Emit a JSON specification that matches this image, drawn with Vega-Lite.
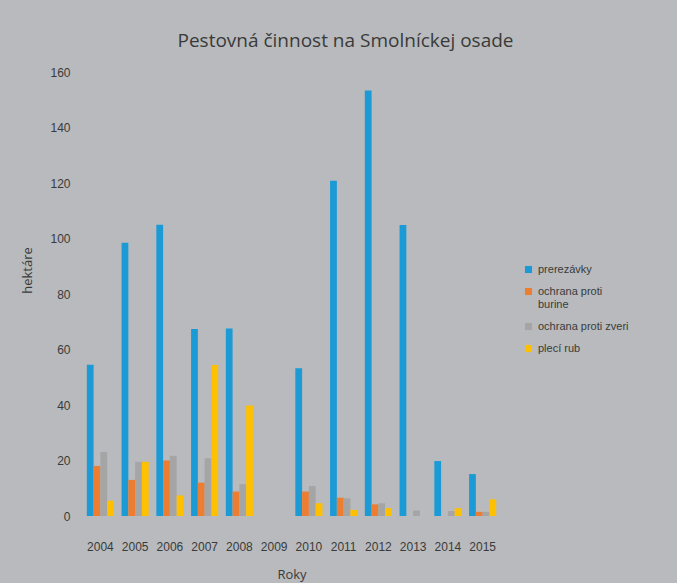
{
  "$schema": "https://vega.github.io/schema/vega-lite/v6.json",
  "autosize": "none",
  "width": 417,
  "height": 444,
  "padding": {"left": 83, "top": 72, "right": 177, "bottom": 67},
  "background": "#b8babd",
  "title": {
    "text": "Pestovná činnost na Smolníckej osade",
    "fontSize": 19,
    "font": "Open Sans",
    "fontWeight": "normal",
    "color": "#3a3a3a",
    "anchor": "middle",
    "frame": "group",
    "offset": 15,
    "dx": 54
  },
  "data": {
    "values": [
      {"rok": "2004", "typ": "prerezávky", "ha": 54.5},
      {"rok": "2004", "typ": "ochrana proti burine", "ha": 18},
      {"rok": "2004", "typ": "ochrana proti zveri", "ha": 23},
      {"rok": "2004", "typ": "plecí rub", "ha": 5.5},
      {"rok": "2005", "typ": "prerezávky", "ha": 98.5},
      {"rok": "2005", "typ": "ochrana proti burine", "ha": 13},
      {"rok": "2005", "typ": "ochrana proti zveri", "ha": 19.5},
      {"rok": "2005", "typ": "plecí rub", "ha": 19.5},
      {"rok": "2006", "typ": "prerezávky", "ha": 105},
      {"rok": "2006", "typ": "ochrana proti burine", "ha": 20},
      {"rok": "2006", "typ": "ochrana proti zveri", "ha": 21.7},
      {"rok": "2006", "typ": "plecí rub", "ha": 7.4},
      {"rok": "2007", "typ": "prerezávky", "ha": 67.4},
      {"rok": "2007", "typ": "ochrana proti burine", "ha": 12},
      {"rok": "2007", "typ": "ochrana proti zveri", "ha": 20.8},
      {"rok": "2007", "typ": "plecí rub", "ha": 54.4},
      {"rok": "2008", "typ": "prerezávky", "ha": 67.6},
      {"rok": "2008", "typ": "ochrana proti burine", "ha": 8.8},
      {"rok": "2008", "typ": "ochrana proti zveri", "ha": 11.5},
      {"rok": "2008", "typ": "plecí rub", "ha": 39.8},
      {"rok": "2009", "typ": "prerezávky", "ha": 0},
      {"rok": "2009", "typ": "ochrana proti burine", "ha": 0},
      {"rok": "2009", "typ": "ochrana proti zveri", "ha": 0},
      {"rok": "2009", "typ": "plecí rub", "ha": 0},
      {"rok": "2010", "typ": "prerezávky", "ha": 53.2},
      {"rok": "2010", "typ": "ochrana proti burine", "ha": 8.8},
      {"rok": "2010", "typ": "ochrana proti zveri", "ha": 10.8},
      {"rok": "2010", "typ": "plecí rub", "ha": 4.6},
      {"rok": "2011", "typ": "prerezávky", "ha": 120.8},
      {"rok": "2011", "typ": "ochrana proti burine", "ha": 6.6},
      {"rok": "2011", "typ": "ochrana proti zveri", "ha": 6.4},
      {"rok": "2011", "typ": "plecí rub", "ha": 2.2},
      {"rok": "2012", "typ": "prerezávky", "ha": 153.3},
      {"rok": "2012", "typ": "ochrana proti burine", "ha": 4.2},
      {"rok": "2012", "typ": "ochrana proti zveri", "ha": 4.6},
      {"rok": "2012", "typ": "plecí rub", "ha": 2.8},
      {"rok": "2013", "typ": "prerezávky", "ha": 104.9},
      {"rok": "2013", "typ": "ochrana proti burine", "ha": 0},
      {"rok": "2013", "typ": "ochrana proti zveri", "ha": 2},
      {"rok": "2013", "typ": "plecí rub", "ha": 0},
      {"rok": "2014", "typ": "prerezávky", "ha": 19.8},
      {"rok": "2014", "typ": "ochrana proti burine", "ha": 0},
      {"rok": "2014", "typ": "ochrana proti zveri", "ha": 1.8},
      {"rok": "2014", "typ": "plecí rub", "ha": 2.8},
      {"rok": "2015", "typ": "prerezávky", "ha": 15.1},
      {"rok": "2015", "typ": "ochrana proti burine", "ha": 1.5},
      {"rok": "2015", "typ": "ochrana proti zveri", "ha": 1.5},
      {"rok": "2015", "typ": "plecí rub", "ha": 6}
    ]
  },
  "mark": {"type": "bar"},
  "encoding": {
    "x": {
      "field": "rok",
      "type": "ordinal",
      "title": "Roky",
      "scale": {"paddingInner": 0.22, "paddingOuter": 0.11},
      "axis": {
        "labelAngle": 0,
        "domain": false,
        "ticks": false,
        "labelPadding": 25,
        "labelFontSize": 12,
        "labelFont": "Liberation Sans",
        "labelColor": "#3a3a3a",
        "titleFont": "Open Sans",
        "titleFontSize": 13,
        "titleFontWeight": "normal",
        "titleColor": "#3a3a3a",
        "titlePadding": 16
      }
    },
    "xOffset": {
      "field": "typ",
      "type": "nominal",
      "sort": ["prerezávky", "ochrana proti burine", "ochrana proti zveri", "plecí rub"],
      "scale": {"paddingInner": 0, "paddingOuter": 0}
    },
    "y": {
      "field": "ha",
      "type": "quantitative",
      "title": "hektáre",
      "scale": {"domain": [0, 160]},
      "axis": {
        "values": [0, 20, 40, 60, 80, 100, 120, 140, 160],
        "grid": false,
        "domain": false,
        "ticks": false,
        "labelPadding": 13,
        "labelFontSize": 12,
        "labelFont": "Liberation Sans",
        "labelColor": "#3a3a3a",
        "titleFont": "Open Sans",
        "titleFontSize": 13,
        "titleFontWeight": "normal",
        "titleColor": "#3a3a3a",
        "titleX": -49,
        "titleY": 198
      }
    },
    "color": {
      "field": "typ",
      "type": "nominal",
      "sort": ["prerezávky", "ochrana proti burine", "ochrana proti zveri", "plecí rub"],
      "scale": {
        "domain": ["prerezávky", "ochrana proti burine", "ochrana proti zveri", "plecí rub"],
        "range": ["#1b9ad6", "#ed7d31", "#a5a5a5", "#ffc000"]
      },
      "legend": {
        "title": null,
        "orient": "none",
        "legendX": 440,
        "legendY": 192,
        "symbolType": "square",
        "symbolSize": 50,
        "symbolStrokeWidth": 0,
        "rowPadding": 10,
        "labelFontSize": 11,
        "labelFont": "Liberation Sans",
        "labelColor": "#3a3a3a",
        "labelLimit": 200,
        "labelExpr": "datum.label == 'ochrana proti burine' ? ['ochrana proti', 'burine'] : datum.label"
      }
    }
  },
  "config": {
    "view": {"stroke": null}
  }
}
